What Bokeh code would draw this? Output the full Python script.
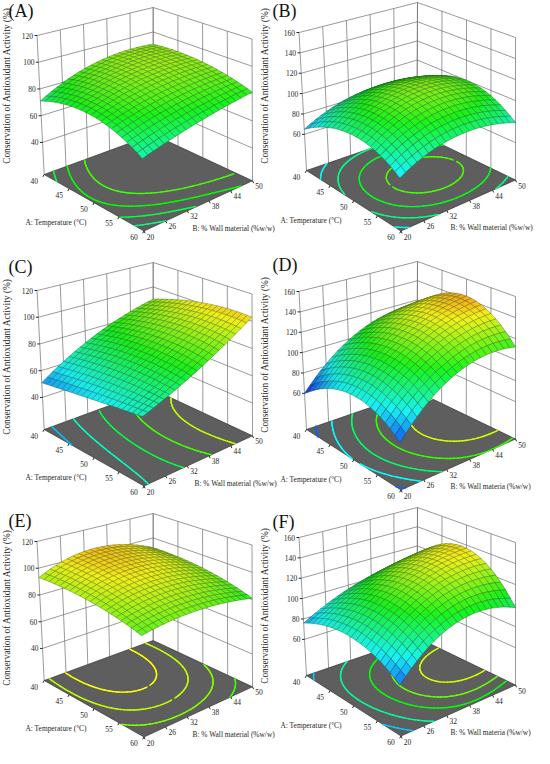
import numpy as np
from bokeh.plotting import figure
from bokeh.models import Range1d
from bokeh.embed import file_html
from bokeh.resources import INLINE
from bokeh.core.properties import value

# ---------------- data ----------------
panel_labels = ["(A)", "(B)", "(C)", "(D)", "(E)", "(F)"]
temp_ticks = [40, 45, 50, 55, 60]
wall_ticks = [20, 26, 32, 38, 44, 50]
z_ticks_left = [40, 60, 80, 100, 120]
z_ticks_right = [60, 80, 100, 120, 140, 160]
design_temp = [40, 50, 60]          # rows of the response tables
design_wall = [20, 35, 50]          # columns of the response tables
resp_A = [[71, 88, 90], [79, 89, 90], [66, 75, 81]]
resp_B = [[65, 84, 78], [86, 108, 100], [71, 88, 79]]
resp_C = [[51, 75, 90], [58, 82, 101], [64, 80, 103]]
resp_D = [[60, 105, 115], [85, 125, 143], [66, 108, 112]]
resp_E = [[93, 104, 92], [93, 100, 90], [86, 88, 81]]
resp_F = [[76, 100, 110], [88, 124, 137], [69, 105, 98]]
levels_A = [65, 70, 75, 80, 85]
levels_B = [65, 75, 85, 95, 104]
levels_C = [55, 65, 75, 85, 95]
levels_D = [70, 85, 100, 115, 130]
levels_E = [80, 85, 90, 95, 100]
levels_F = [80, 95, 110, 120, 130]
z_range_left = [16, 120]
z_range_right = [24.5, 160]
color_ranges = [[40, 120], [50, 145], [40, 120], [60, 160], [40, 120], [60, 160]]
temp_title = "A: Temperature (\u00b0C)"
wall_title = "B: % Wall material (%w/w)"
wall_title_alt = "B: % Wall materia (%w/w)"
z_title = "Conservation of Antioxidant Activity (%)"

# ---------------- layout (screen geometry of the 3-D boxes) ----------------
LEFT_BOX = {(0, 0, 0): (51.7, 182.0), (1, 0, 0): (151.5, 238.5),
            (1, 1, 0): (260.0, 188.3), (0, 1, 0): (160.7, 142.0),
            (0, 0, 1): (44.5, 43.0), (1, 0, 1): (148.0, 88.0),
            (1, 1, 1): (259.5, 46.5), (0, 1, 1): (160.7, 15.0)}
RIGHT_BOX = {(0, 0, 0): (314.0, 178.0), (1, 0, 0): (408.5, 238.5),
             (1, 1, 0): (523.0, 187.5), (0, 1, 0): (424.5, 140.0),
             (0, 0, 1): (306.5, 40.0), (1, 0, 1): (405.0, 84.0),
             (1, 1, 1): (523.0, 45.0), (0, 1, 1): (425.0, 10.0)}

panels = [
    dict(lab=panel_labels[0], R=resp_A, lev=levels_A, side="L", dy=0, wt=wall_title, zy=93, wx=200, ly=18),
    dict(lab=panel_labels[1], R=resp_B, lev=levels_B, side="R", dy=0, wt=wall_title, zy=93, wx=458, ly=18),
    dict(lab=panel_labels[2], R=resp_C, lev=levels_C, side="L", dy=255, wt=wall_title, zy=364, wx=202, ly=274),
    dict(lab=panel_labels[3], R=resp_D, lev=levels_D, side="R", dy=259, wt=wall_title_alt, zy=362, wx=458, ly=272),
    dict(lab=panel_labels[4], R=resp_E, lev=levels_E, side="L", dy=506, wt=wall_title, zy=615, wx=200, ly=528),
    dict(lab=panel_labels[5], R=resp_F, lev=levels_F, side="R", dy=505, wt=wall_title_alt, zy=613, wx=458, ly=529),
]
for pn, cr in zip(panels, color_ranges):
    pn["cr"] = cr

FONT = value("Liberation Serif")
STOPS = np.array([[0, 0, 255], [0, 255, 255], [0, 255, 0], [255, 255, 0], [255, 0, 0]], float)


def cmap(t):
    t = np.clip(np.asarray(t, float), 0, 1) * 4
    i = np.minimum(np.floor(t).astype(int), 3)
    f = t - i
    return STOPS[i] * (1 - f)[..., None] + STOPS[i + 1] * f[..., None]


def hexc(c):
    c = np.clip(np.round(c), 0, 255).astype(int)
    return "#%02x%02x%02x" % (c[0], c[1], c[2])


def lag(x):
    return np.array([x * (x - 1) / 2, 1 - x * x, x * (x + 1) / 2])


def model(R, A, B):
    x1 = (np.asarray(A, float) - design_temp[1]) / (design_temp[2] - design_temp[1])
    x2 = (np.asarray(B, float) - design_wall[1]) / (design_wall[2] - design_wall[1])
    return np.einsum("i...,ij,j...->...", lag(x1), np.asarray(R, float), lag(x2))


def proj(box, dy, u, v, w):
    u = np.asarray(u, float); v = np.asarray(v, float); w = np.asarray(w, float)
    shape = np.broadcast(u, v, w).shape
    x = np.zeros(shape); y = np.zeros(shape)
    for (iu, iv, iw), (cx, cy) in box.items():
        wt = (u if iu else 1 - u) * (v if iv else 1 - v) * (w if iw else 1 - w)
        x = x + wt * cx
        y = y + wt * cy
    return x, y + dy


def contour_segments(F, level, us, vs):
    segs = []
    n0, n1 = F.shape
    for i in range(n0 - 1):
        for j in range(n1 - 1):
            c = (F[i, j], F[i + 1, j], F[i + 1, j + 1], F[i, j + 1])
            p = ((us[i], vs[j]), (us[i + 1], vs[j]), (us[i + 1], vs[j + 1]), (us[i], vs[j + 1]))
            cr = []
            for k in range(4):
                a, b = c[k], c[(k + 1) % 4]
                if (a - level) * (b - level) < 0:
                    t = (level - a) / (b - a)
                    pa, pb = p[k], p[(k + 1) % 4]
                    cr.append((pa[0] + t * (pb[0] - pa[0]), pa[1] + t * (pb[1] - pa[1])))
            if len(cr) == 2:
                segs.append(cr)
            elif len(cr) == 4:
                segs.append(cr[:2]); segs.append(cr[2:])
    return segs


p = figure(width=534, height=748, x_range=Range1d(8, 542), y_range=Range1d(756, 8),
           output_backend="svg", toolbar_location=None, min_border=0)
p.axis.visible = False
p.grid.visible = False
p.outline_line_color = None
p.background_fill_color = "white"
p.border_fill_color = "white"

t0, t1 = min(temp_ticks), max(temp_ticks)
b0, b1 = min(wall_ticks), max(wall_ticks)

wall_xs, wall_ys = [], []
floor_xs, floor_ys = [], []
cont_xs, cont_ys, cont_cols = [], [], []
surf_xs, surf_ys, surf_fill, surf_line = [], [], [], []
tick_xs, tick_ys = [], []
txt = {"x": [], "y": [], "t": [], "align": []}
ztxt = {"x": [], "y": [], "t": []}
ax_txt = {"x": [], "y": [], "t": []}
let_txt = {"x": [], "y": [], "t": []}

for pn in panels:
    left = pn["side"] == "L"
    box = LEFT_BOX if left else RIGHT_BOX
    dy = pn["dy"]
    zf, zt = z_range_left if left else z_range_right
    c0, c1 = pn["cr"]
    zticks = z_ticks_left if left else z_ticks_right

    def P(u, v, w):
        return proj(box, dy, u, v, w)

    # walls
    segs = []
    for zz in zticks:
        w = (zz - zf) / (zt - zf)
        segs.append(((0, 0, w), (0, 1, w)))
        segs.append(((0, 1, w), (1, 1, w)))
    for bt in wall_ticks:
        v = (bt - b0) / (b1 - b0)
        segs.append(((0, v, 0), (0, v, 1)))
    for at in temp_ticks:
        u = (at - t0) / (t1 - t0)
        segs.append(((u, 1, 0), (u, 1, 1)))
    for a, b in segs:
        xa, ya = P(*a); xb, yb = P(*b)
        wall_xs.append([float(xa), float(xb)]); wall_ys.append([float(ya), float(yb)])

    # floor
    fx, fy = P([0, 1, 1, 0], [0, 0, 1, 1], [0, 0, 0, 0])
    floor_xs.append(list(fx)); floor_ys.append(list(fy))

    # contours on floor
    gc = np.linspace(0, 1, 61)
    UU, VV = np.meshgrid(gc, gc, indexing="ij")
    FF = model(pn["R"], t0 + UU * (t1 - t0), b0 + VV * (b1 - b0))
    for lev in pn["lev"]:
        col = hexc(cmap((lev - c0) / (c1 - c0))[()])
        for s in contour_segments(FF, lev, gc, gc):
            sx, sy = P([s[0][0], s[1][0]], [s[0][1], s[1][1]], [0, 0])
            cont_xs.append(list(sx)); cont_ys.append(list(sy)); cont_cols.append(col)

    # surface
    N = 20
    g = np.linspace(0, 1, N + 1)
    U, V = np.meshgrid(g, g, indexing="ij")
    Z = model(pn["R"], t0 + U * (t1 - t0), b0 + V * (b1 - b0))
    W = (Z - zf) / (zt - zf)
    X, Y = P(U, V, W)
    L = np.array([0.5, -0.3, 0.8]); L = L / np.linalg.norm(L)
    quads = []
    for i in range(N):
        for j in range(N):
            idx = [(i, j), (i + 1, j), (i + 1, j + 1), (i, j + 1)]
            uc = (g[i] + g[i + 1]) / 2; vc = (g[j] + g[j + 1]) / 2
            wc = np.mean([W[a, b] for a, b in idx]); zc = np.mean([Z[a, b] for a, b in idx])
            dwdu = ((W[i + 1, j] + W[i + 1, j + 1]) - (W[i, j] + W[i, j + 1])) / 2 * N
            dwdv = ((W[i, j + 1] + W[i + 1, j + 1]) - (W[i, j] + W[i + 1, j])) / 2 * N
            n = np.array([-dwdu * 0.9, -dwdv * 0.9, 1.0]); n = n / np.linalg.norm(n)
            ndl = max(float(n @ L), 0.0)
            s = 0.8 + 0.2 * ndl
            base = cmap((zc - c0) / (c1 - c0))[()] * 0.86 + 255 * 0.1
            fc = base * s
            depth = -(uc - vc) * 0.612 - 0.45 * wc
            quads.append((depth, [float(X[a, b]) for a, b in idx], [float(Y[a, b]) for a, b in idx],
                          hexc(fc), hexc(fc * 0.5)))
    quads.sort(key=lambda q: -q[0])
    for q in quads:
        surf_xs.append(q[1]); surf_ys.append(q[2]); surf_fill.append(q[3]); surf_line.append(q[4])

    # z ticks and labels (left vertical edge)
    for zz in zticks:
        w = (zz - zf) / (zt - zf)
        x, y = P(0, 0, w)
        tick_xs.append([float(x), float(x) - 2.5]); tick_ys.append([float(y), float(y)])
        txt["x"].append(float(x) - 4); txt["y"].append(float(y)); txt["t"].append(str(zz)); txt["align"].append("right")
    # A ticks (front-left edge)
    for at in temp_ticks:
        u = (at - t0) / (t1 - t0)
        x, y = P(u, 0, 0)
        tick_xs.append([float(x), float(x) - 1.3]); tick_ys.append([float(y), float(y) + 2.3])
        txt["x"].append(float(x) - 10); txt["y"].append(float(y) + 6); txt["t"].append(str(at)); txt["align"].append("center")
    # B ticks (front-right edge)
    for bt in wall_ticks:
        v = (bt - b0) / (b1 - b0)
        x, y = P(1, v, 0)
        tick_xs.append([float(x), float(x) + 1.1]); tick_ys.append([float(y), float(y) + 2.3])
        txt["x"].append(float(x) + 6.5); txt["y"].append(float(y) + 5.5); txt["t"].append(str(bt)); txt["align"].append("center")

    # titles
    ax_txt["x"].append(33 + (0 if left else 255)); ax_txt["y"].append((230 if left else 228) + dy); ax_txt["t"].append(temp_title)
    ax_txt["x"].append(pn["wx"]); ax_txt["y"].append((236 if left else 235) + dy); ax_txt["t"].append(pn["wt"])
    ztxt["x"].append(14 if left else 272); ztxt["y"].append(pn["zy"]); ztxt["t"].append(z_title)
    let_txt["x"].append(16 if left else 280); let_txt["y"].append(pn["ly"]); let_txt["t"].append(pn["lab"])

p.multi_line(wall_xs, wall_ys, line_color="#6e6e6e", line_width=0.7)
p.patches(floor_xs, floor_ys, fill_color="#5e5e5e", line_color="#333333", line_width=0.7)
p.multi_line(cont_xs, cont_ys, line_color=cont_cols, line_width=1.4, line_cap="round")
p.patches(surf_xs, surf_ys, fill_color=surf_fill, line_color=surf_line, line_width=0.45)
p.multi_line(tick_xs, tick_ys, line_color="#222222", line_width=1.0)

p.text(x=txt["x"], y=txt["y"], text=txt["t"], text_align=txt["align"], text_baseline="middle",
       text_font=FONT, text_font_size="7.5px", text_color="#262626")
p.text(x=ax_txt["x"], y=ax_txt["y"], text=ax_txt["t"], text_align="left", text_baseline="middle",
       text_font=FONT, text_font_size="7.4px", text_color="#262626")
p.text(x=ztxt["x"], y=ztxt["y"], text=ztxt["t"], text_align="center", text_baseline="middle",
       angle=np.pi / 2, text_font=FONT, text_font_size="9.4px", text_color="#262626")
p.text(x=let_txt["x"], y=let_txt["y"], text=let_txt["t"], text_align="left", text_baseline="middle",
       text_font=FONT, text_font_size="18px", text_color="#111111")

open("out.html", "w").write(file_html(p, INLINE))
